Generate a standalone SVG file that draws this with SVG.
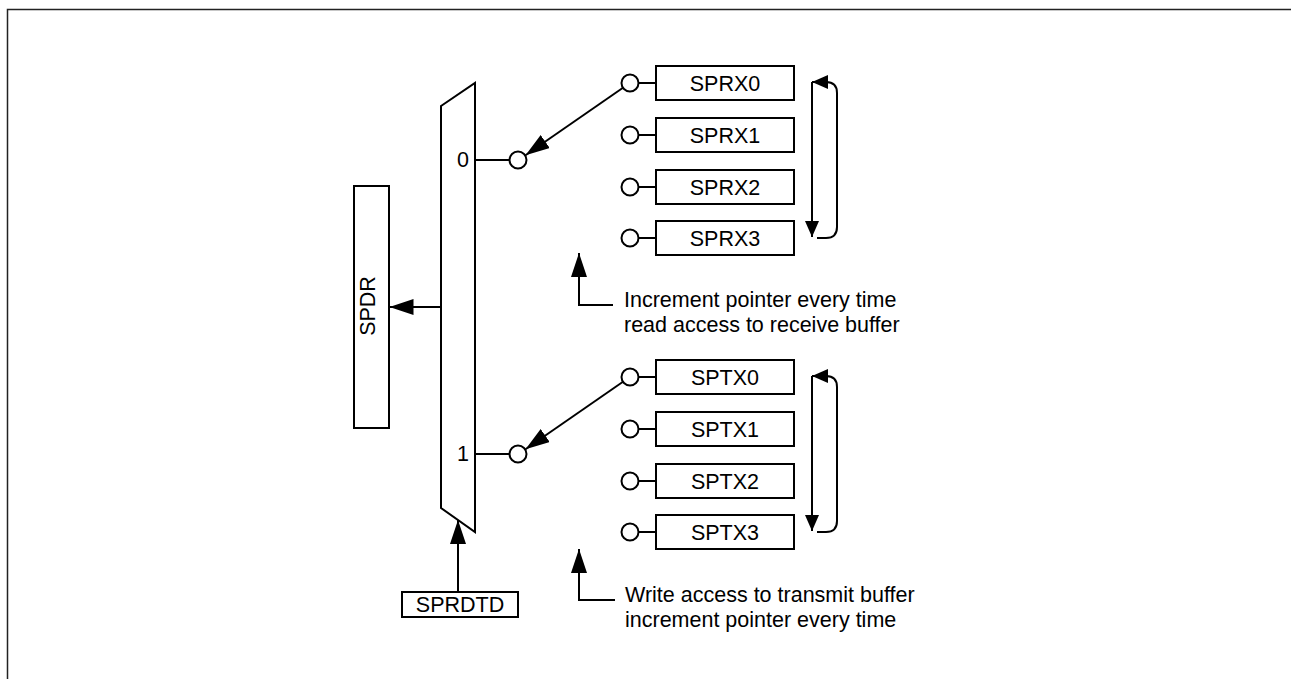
<svg xmlns="http://www.w3.org/2000/svg" width="1291" height="679" viewBox="0 0 1291 679">
<style>
.s{fill:#fff;stroke:#000;stroke-width:2}
.l{fill:none;stroke:#000;stroke-width:2}
text{font-family:"Liberation Sans",Arial,sans-serif;font-size:21.5px;fill:#000}
.m{text-anchor:middle}
</style>
<defs>
<marker id="ah" markerUnits="userSpaceOnUse" markerWidth="26" markerHeight="18" refX="24" refY="8" orient="auto" viewBox="0 0 26 18">
<path d="M0,0 L24,8 L0,16 z" fill="#000"/>
</marker>
<marker id="as" markerUnits="userSpaceOnUse" markerWidth="18" markerHeight="16" refX="16" refY="7" orient="auto" viewBox="0 0 18 16">
<path d="M0,0 L16,7 L0,14 z" fill="#000"/>
</marker>
</defs>
<rect x="7.5" y="9.5" width="1290" height="680" fill="#fff" stroke="#222" stroke-width="1.5"/>
<g id="mux">
<polygon class="s" points="441,106 475,83 475,532 441,508"/>
<text class="m" x="463" y="167">0</text>
<text class="m" x="463" y="461">1</text>
</g>
<g id="spdr">
<rect class="s" x="354" y="186" width="35" height="242"/>
<text class="m" transform="translate(375,306) rotate(-90)">SPDR</text>
</g>
<g id="sprdtd">
<rect class="s" x="402" y="592" width="116" height="25"/>
<text class="m" x="460" y="612">SPRDTD</text>
</g>
<g id="sprx0"><rect class="s" x="656" y="66" width="138" height="34"/><text class="m" x="725" y="90.5">SPRX0</text></g>
<g id="sprx1"><rect class="s" x="656" y="118" width="138" height="34"/><text class="m" x="725" y="142.5">SPRX1</text></g>
<g id="sprx2"><rect class="s" x="656" y="170" width="138" height="34"/><text class="m" x="725" y="194.5">SPRX2</text></g>
<g id="sprx3"><rect class="s" x="656" y="221" width="138" height="34"/><text class="m" x="725" y="245.5">SPRX3</text></g>
<g id="sptx0"><rect class="s" x="656" y="360" width="138" height="34"/><text class="m" x="725" y="384.5">SPTX0</text></g>
<g id="sptx1"><rect class="s" x="656" y="412" width="138" height="34"/><text class="m" x="725" y="436.5">SPTX1</text></g>
<g id="sptx2"><rect class="s" x="656" y="464" width="138" height="34"/><text class="m" x="725" y="488.5">SPTX2</text></g>
<g id="sptx3"><rect class="s" x="656" y="515" width="138" height="34"/><text class="m" x="725" y="539.5">SPTX3</text></g>
<g id="note-rx">
<text x="624" y="306.5">Increment pointer every time</text>
<text x="624" y="331.5">read access to receive buffer</text>
</g>
<g id="note-tx">
<text x="625" y="601.5">Write access to transmit buffer</text>
<text x="625" y="627">increment pointer every time</text>
</g>
<g id="connectors">
<path class="l" d="M475,160 H509.5 M475,454 H509.5"/>
<circle class="s" cx="518" cy="160" r="8.5"/>
<circle class="s" cx="518" cy="454" r="8.5"/>
<path class="l" d="M638.5,83 H656 M638.5,135 H656 M638.5,187 H656 M638.5,238 H656 M638.5,377 H656 M638.5,429 H656 M638.5,481 H656 M638.5,532 H656"/>
<circle class="s" cx="630" cy="83" r="8.5"/>
<circle class="s" cx="630" cy="135" r="8.5"/>
<circle class="s" cx="630" cy="187" r="8.5"/>
<circle class="s" cx="630" cy="238" r="8.5"/>
<circle class="s" cx="630" cy="377" r="8.5"/>
<circle class="s" cx="630" cy="429" r="8.5"/>
<circle class="s" cx="630" cy="481" r="8.5"/>
<circle class="s" cx="630" cy="532" r="8.5"/>
<path class="l" d="M623,87.8 L525.5,155.2" marker-end="url(#ah)"/>
<path class="l" d="M623,381.8 L525.5,449.2" marker-end="url(#ah)"/>
<path class="l" d="M812,82 V237" marker-end="url(#as)"/>
<path class="l" d="M817,238 H826 Q837,238 837,227 V93 Q837,82 826,82 H812" marker-end="url(#as)"/>
<path class="l" d="M812,376 V531" marker-end="url(#as)"/>
<path class="l" d="M817,532 H826 Q837,532 837,521 V387 Q837,376 826,376 H812" marker-end="url(#as)"/>
<path class="l" d="M441,307 H389.5" marker-end="url(#ah)"/>
<path class="l" d="M458,592 V520" marker-end="url(#ah)"/>
<path class="l" d="M613,305 H579 V253" marker-end="url(#ah)"/>
<path class="l" d="M615,600 H579 V549" marker-end="url(#ah)"/>
</g>
</svg>
